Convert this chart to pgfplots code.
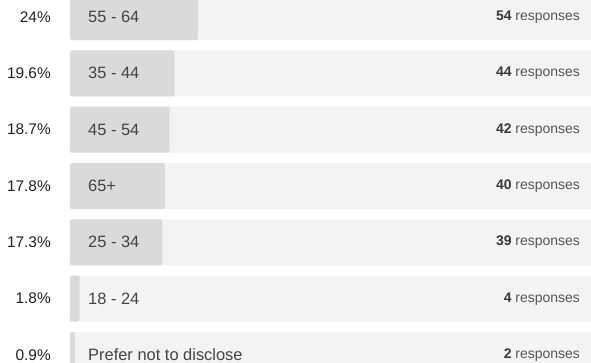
\documentclass[border=0pt]{standalone}
\usepackage{pgfplots}
\pgfplotsset{compat=1.18}
\usepackage{fontspec}
\setmainfont{Liberation Sans}
\definecolor{bgbar}{HTML}{F3F3F3}
\definecolor{fgbar}{HTML}{DADADA}
\definecolor{pcttext}{HTML}{222222}
\definecolor{labtext}{HTML}{444444}
\definecolor{restext}{HTML}{555555}
\begin{document}
\begin{tikzpicture}
\begin{axis}[
  scale only axis, width=591bp, height=363bp,
  xmin=-13.125, xmax=97.69, ymin=-0.142, ymax=6.302,
  axis line style={draw=none}, xtick=\empty, ytick=\empty,
  axis background/.style={fill=white},
  xbar, bar shift=0pt, bar width=0.8166,
]
% background (100%)
\addplot[fill=bgbar, draw=none, rounded corners=2pt] coordinates {
 (100,6) (100,5) (100,4) (100,3) (100,2) (100,1) (100,0)};
% share of responses (%)
\addplot[fill=fgbar, draw=none, rounded corners=2pt] coordinates {
 (24,6) (19.6,5) (18.7,4) (17.8,3) (17.3,2) (1.8,1) (0.9,0)};
\begin{scope}[font=\fontsize{15.5}{18}\selectfont]
\foreach \y/\p in {6/24\%, 5/19.6\%, 4/18.7\%, 3/17.8\%, 2/17.3\%, 1/1.8\%, 0/0.9\%}{
  \edef\tmp{\noexpand\node[anchor=east, text=pcttext, inner sep=0pt] at (axis cs:-3.56,\y) {\p};}
  \tmp
}
\end{scope}
\begin{scope}[font=\fontsize{16.5}{19}\selectfont]
\foreach \y/\l in {6/55 - 64, 5/35 - 44, 4/45 - 54, 3/65+, 2/25 - 34, 1/18 - 24, 0/Prefer not to disclose}{
  \edef\tmp{\noexpand\node[anchor=west, text=labtext, inner sep=0pt] at (axis cs:3.375,\y) {\l};}
  \tmp
}
\end{scope}
\begin{scope}[font=\fontsize{14}{17}\selectfont]
\foreach \y/\n in {6/54, 5/44, 4/42, 3/40, 2/39, 1/4, 0/2}{
  \edef\tmp{\noexpand\node[anchor=east, text=restext, inner sep=0pt] at (axis cs:95.63,\y) {\noexpand\textbf{\noexpand\textcolor{pcttext!90}{\n}} responses};}
  \tmp
}
\end{scope}
\end{axis}
\end{tikzpicture}
\end{document}
